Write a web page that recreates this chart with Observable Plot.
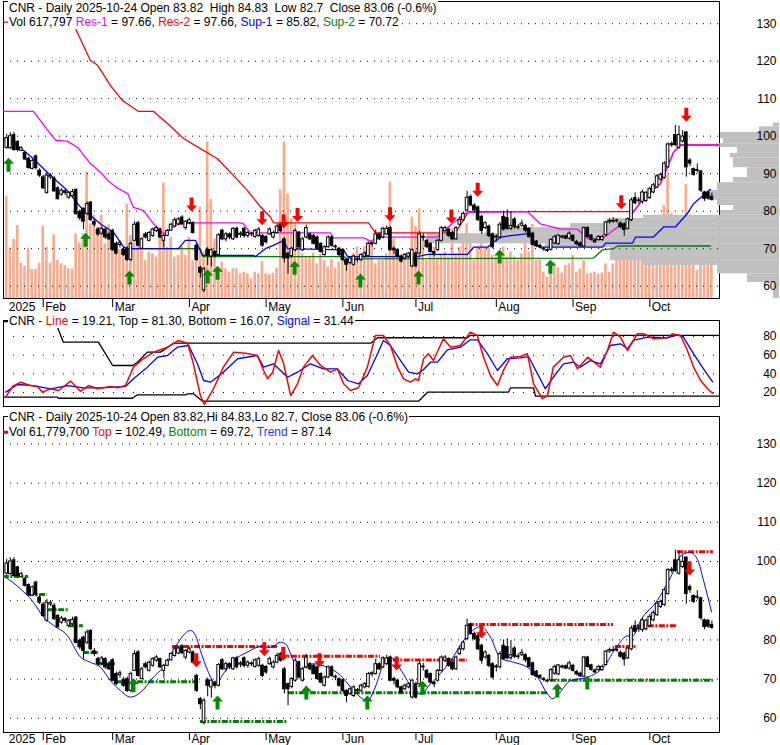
<!DOCTYPE html>
<html><head><meta charset="utf-8">
<script src="https://cdn.jsdelivr.net/npm/d3@7"></script>
<script src="https://cdn.jsdelivr.net/npm/@observablehq/plot@0.6"></script>
<style>
body{margin:0;background:#fff;}
#wrap{position:relative;width:780px;height:745px;overflow:hidden;background:#fff;}
#wrap svg{position:absolute;left:0;}
.hdr{position:absolute;left:8px;background:#fff;font:12px Arial,"Liberation Sans",sans-serif;white-space:pre;line-height:14px;height:14px;color:#000;padding:0 1px;z-index:5;}
</style></head>
<body><div id="wrap"></div>
<script>
// ---------- axis labels ----------
const monthIdx = [0,10,29,50,71,92,112,134,155,176];
const monthLbl = ["2025","Feb","Mar","Apr","May","Jun","Jul","Aug","Sep","Oct"];
const priceTicks = [60,70,80,90,100,110,120,130];
const oscTicks = [20,40,60,80];

// ---------- daily OHLC + volume (Jan 17 .. Oct 24, 2025), volume in thousands ----------
const open = [96.9,96.8,100.3,98.5,96.1,95.5,94,91.3,94.6,90.8, 89,84.9,89,88.7,86.1,84.4,85.3,83.6,84,85.7, 79.8,80.6,79.3,82.3,77.1,75.1,74,75.1,73.8,74.8, 71.3,71,69.7,70,67,72.1,76.8,70,73.8,72.1, 73.4,74.7,75.1,72.1,73.4,74.8,75.9,76.5,78.3,75.5, 76.8,76.8,70.8,64.9,58.9,69.7,67.9,69.1,68.3,74.8, 72.5,73.8,72.5,75.3,73.7,75.3,73.4,73.8,73.1,73.4, 73.4,73.1,73.8,73,74.2,76.4,72.5,68.7,68,69.6, 74.3,69.6,73,73.8,73.4,73,71.3,68.3,70.4,73, 70.4,70,69.7,67,66.2,65.7,67,67,67.9,68, 71.2,71.3,73.8,73,73.8,75.5,70,69.6,67.9,67.4, 67.9,65.3,68.7,68.7,73.2,72.1,71.3,69.1,69.6,72.1, 74.7,75.1,74.2,72.5,76.4,77.6,80.2,83.8,81.5,81, 78.5,75.5,75.9,73.8,73,73,78.5,78.2,75.3,77.8, 75.8,76.1,76.1,75.3,74,71.9,70.8,70,69.4,69.7, 71.4,71.2,73,73.3,72.7,73.4,71.8,71.4,70.6,75.5, 73.5,72.2,72.3,72.3,73.6,77,77.2,77.5,76.7,76.5, 75.3,77.6,83.5,82.7,82.5,82.7,83.5,85,86.3,88.4, 88.9,91.7,97.6,100.3,96.9,98.6,101,93.5,91.2,91, 90.6,85,84.9,83.82];
const high = [100.5,100.9,101,98.8,97.2,96,94.3,93.8,95,91.3, 89.5,90.3,90,89.3,86.5,86,85.7,85.2,85.8,85.9, 80.3,80.9,82.5,82.6,77.8,75.6,75.8,75.5,74.5,75.2, 71.8,72.1,70.5,70.5,71.8,77.2,77.3,73,74.3,74.6, 75.5,76,75.4,73.8,75.1,76.8,78.2,78.3,78.8,77.5, 78.1,77.2,71.2,65.3,65,70.3,70,69.5,74,75.2, 74.3,74.2,75.6,75.8,74.5,75.7,74.7,74.4,75.2,75.6, 73.8,73.5,75.6,74.7,76.6,76.8,73,69,70.4,75.2, 74.6,73,76.3,74.2,73.8,73.4,71.6,70.8,73.4,73.4, 71,70.3,70,67.3,67.8,68.3,67.6,68.7,69.2,71.7, 71.9,75,74.2,75.7,76.1,75.9,70.5,70,68.2,68.7, 69,70,69.2,74.6,74,72.5,71.6,69.4,72.5,75.9, 76,75.5,74.6,75.9,78.5,79.8,85.3,84.3,82,81.4, 78.9,77.2,76.3,74.2,73.7,77,80,80.3,79.9,78.3, 76.5,77.6,76.5,75.6,74.4,72.2,71.2,70.4,70,72.7, 73.6,73.7,73.6,73.6,74.5,73.8,72.2,71.8,75.8,75.8, 73.8,72.6,73.5,73.6,77.3,77.9,78.3,77.9,77.2,76.9, 78.2,83.5,84.9,83.6,85.6,85.3,86.5,87.4,89.8,90.2, 93.2,98.2,98.5,102.9,102.7,101.5,101.2,94,91.5,92.6, 90.9,85.3,85.2,84.83];
const low = [96.5,96.5,96,95.8,95.9,93.5,91.2,91,91,89, 85.8,84.5,88.5,85,83,84,84.2,83.2,83.5,79, 77.5,75.1,78.8,77.3,75.7,73.3,73.5,72.5,72.2,69.3, 68.3,70.2,67.9,66.6,66.5,71.9,70.5,69.8,72.6,71.8, 73,74.3,72.7,70.2,73.2,74.6,75.6,76.2,76.3,74.9, 76.4,73.9,66.6,62.2,58.3,65.5,65.1,67.5,68,72.1, 71.8,72.4,72.2,72.6,72.9,72.8,72.8,73.2,72.8,73, 70.4,71.2,73.5,72.6,73.9,74.3,66.2,63.2,67.5,69.2, 70,69.2,72.6,72.1,71,69.7,68.8,68,70.1,70.4, 69.6,67.9,66.5,64,65.8,65.3,66.3,66.6,67.5,67.7, 70.5,71,72.2,72.6,73.5,69.3,68.5,67.5,66.2,67, 67.5,64.9,64.9,68.3,72,70,68.8,67.8,69.2,71.8, 74.3,73,72.1,72.2,76,77.2,79.8,81.2,79.8,77.3, 73.8,75.1,72.9,70,71.8,72.6,74.7,74.9,74.8,75.2, 75,75.8,74.2,72.8,70.7,70.3,69.9,69.3,69,69.4, 71,70.9,72.6,72.4,72.3,71.8,70.8,70.4,70.3,72.8, 72,71.4,72,72,73.3,76.6,76.8,76.8,75.3,73.3, 75,77.2,81.7,81.9,81.9,82.3,83.1,84.6,86,88, 88.5,91.4,97,97.2,96.5,98.2,89.1,91.9,89.3,90.2, 85,82.6,83,82.7];
const close = [99.5,100,96.3,96.3,96.8,93.8,91.5,93.4,91.5,89.5, 86.1,89.5,89.4,85.3,83.2,85.5,84.9,84.9,85.1,79.2, 78.1,77.2,81.9,77.6,76.4,73.8,75.3,73,72.5,69.6, 68.7,71.5,68.3,67,71.3,76.4,70.8,72.5,73,74.2, 75.1,75.5,73,73.4,74.7,76.4,77.6,77.8,76.6,77.2, 77.6,74.2,67,63.6,64.5,68.3,69.6,68.3,73.6,72.5, 73.8,73,75.3,73,74,73.4,74.2,74,74.8,75.1, 70.8,71.7,75.1,74.2,75.9,74.7,67.4,67.4,70,74.7, 70.4,72.5,75.5,72.5,71.3,70,69.1,70.4,73,70.8, 70.6,68.3,67,65.7,67.4,67.9,67.2,68.3,68.7,71.3, 71.5,73.8,72.5,75.3,75.3,69.6,69.6,67.9,66.6,68.3, 68.7,69.6,65.3,73.8,73,70.4,69.1,68.7,72.1,75.5, 75.5,73.4,72.5,75.5,77.6,79.3,83.6,81.5,80.2,77.6, 74.7,76.8,73.4,70.4,73.2,76.4,75.1,75.3,76.1,75.7, 75.6,76.7,74.8,73.1,71,70.6,70.3,69.8,69.6,72.3, 73.1,73.5,73.2,72.7,74,72.1,71.2,70.7,75.5,73.1, 72.4,71.7,73.1,73.1,77,77.4,77.4,77.3,75.7,75, 77.8,82.9,82.1,82.9,85,84.9,85.9,86.9,89.3,89.7, 92.7,97.8,97.9,97.6,100.3,99.9,91.7,92.7,89.7,90.8, 85.5,83.3,83.4,83.06];
const volume = [1836,906,1062,1314,636,582,906,522,522,636, 1296,924,636,1146,684,624,594,534,534,1164, 996,1164,2274,1344,1494,1284,1494,984,1326,1044, 984,876,834,1692,1134,1254,1194,876,684,834, 804,744,1284,2076,924,1104,744,774,936,774, 1104,684,834,1644,834,2814,1782,1074,504,654, 534,474,534,534,444,474,444,354,474,444, 666,444,432,456,546,1956,2814,1884,1434,1344, 1044,804,744,744,816,624,792,684,564,696, 552,654,804,636,654,804,924,714,936,1044, 984,624,684,684,804,2094,1074,792,792,804, 792,1464,1296,1614,1104,684,804,924,744,774, 834,744,1254,804,924,1044,1344,1164,684,924, 984,924,924,774,744,684,924,744,834,744, 684,804,1284,834,1332,684,696,474,384,624, 654,552,456,594,624,774,474,534,684,444, 456,474,444,456,624,474,624,744,1116,684, 744,1074,1074,924,864,624,624,594,696,834, 1674,2232,1524,1494,1464,1164,2052,834,834,504, 1044,894,744,612];

// ---------- volume-at-price profile (thousands) ----------
const profLo = [56.7,61,63.3,65.5,66.8,70.3,71.3,74,75.6,76.7,78.1,78.9,80.2,81.5,82.9,85.5,87.6,89,91.6,94.2,95.4,97,98,99.4,101,102.5];
const profHi = [61,63.3,65.5,66.8,70.3,71.3,74,75.6,76.7,78.1,78.9,80.2,81.5,82.9,85.5,87.6,89,91.6,94.2,95.4,97,98,99.4,101,102.5,103.5];
const profVol = [300,1600,3100,6800,8450,11700,17600,14000,10450,8600,6800,2950,2300,3100,3600,3100,2300,1600,2300,2450,2100,3150,2800,2950,1000,300];

// ---------- top panel: support / resistance lines [barIndex, price] ----------
const res2 = [[-0.9,130.4],[16.9,130.4],[18.8,128.7],[22.9,120.2],[24.9,118.9],[28.4,113.5],[31.7,109.5],[36.1,106.6],[40.2,106.6],[44,103.4],[48.4,99.4],[53,96.7],[57.7,94],[62.1,89.5],[65.9,85.5],[69.5,81.1],[72.2,78.4],[73,76.9],[99,76.9],[100.9,74.2],[122.8,74.2],[126.4,79.9],[171.5,79.9],[173.5,82.4],[176.2,85.1],[178.9,87.3],[180.8,91.7],[182.5,95.7],[184.4,97.66],[195,97.66]];
const res1 = [[-0.9,106.6],[7.3,106.6],[12,100.6],[13.4,98.9],[16.6,98.7],[19.4,97],[22.9,92.7],[25.7,90.4],[27.6,88.2],[30.3,86.2],[33.1,84.7],[34.7,81],[37.4,80.2],[40.2,76.6],[42.9,74],[44.8,75.3],[46.7,76.4],[51.1,76.9],[64,76.9],[64.8,76.6],[66.7,74.2],[88.6,74.2],[89.4,72.9],[97.7,72.9],[99.6,72],[101.5,73.1],[117.9,73.1],[118.7,74],[122.3,77],[126.1,79.7],[142.5,79.9],[146.1,76.6],[151.6,75.2],[156.2,75.2],[159,72.7],[163.1,72.7],[167.2,75.8],[169.9,76.6],[171.3,79.4],[173.5,82.4],[176.2,85.1],[178.9,87.3],[180.8,91.7],[182.5,95.7],[184.4,97.66],[195,97.66]];
const sup1 = [[-0.9,99.4],[1.9,98.4],[7.3,94],[12,89.5],[16.6,85.5],[20.2,81.1],[25.7,76.6],[29.2,74.4],[32,70.4],[33.1,70],[47,70],[48.9,72.2],[51.7,72.2],[53.6,68.2],[67.5,68.2],[68.1,67.9],[70.8,70],[73,70.9],[75.8,72.2],[76.9,70],[92.2,69.7],[93.3,67.9],[112.4,67.9],[115.2,68.5],[126.1,68.5],[127.8,70.4],[131.6,70.4],[133.2,71.7],[135.1,73],[137.9,73.5],[143.4,74.1],[144.2,71.3],[146.1,70.4],[163.1,70.4],[163.9,71.5],[171.3,71.5],[172.1,73.1],[177,73.1],[179.8,75.8],[183,75.8],[186.3,79.4],[188,82],[190.7,84.3],[192.6,85.82]];
const sup2 = [[33.1,70],[53,70],[53.6,67.9],[92.2,67.9],[93.3,67.3],[160.6,67.5],[163.1,69.7],[166.1,70],[167.2,70.72],[192.6,70.72]];
const topUp = [[0.5,94.8],[21.6,74.8],[33.6,64.7],[55,65],[57.7,66],[78.8,67.3],[96.8,63.9],[112.7,64.7],[134.9,70.3],[148.8,67.6]];
const topDn = [[50.6,79.4],[69.9,75.7],[75.8,74.9],[79.6,76.6],[104.9,76.8],[121.7,76.2],[128.9,83.3],[168.2,80],[186,103.3]];

// ---------- middle panel oscillator [barIndex, value] ----------
const oscLine = [[-0.3,15],[1.6,26.5],[3.8,31.1],[6.5,27.5],[8.4,26.5],[9.8,20.4],[12,24],[14.2,22.2],[17.5,32.2],[20.2,21.4],[22.4,27.5],[24.9,24],[28.4,26.5],[30.3,25.1],[32.5,27.5],[34.7,47.2],[37.4,56.2],[40.2,63.3],[44,68.6],[47,75.8],[49.5,72.9],[51.1,50.8],[53,16.8],[54.1,7.2],[56.6,24],[59.3,47.2],[62.1,63.3],[65.4,62.2],[68.6,59.7],[70.3,43.6],[71.4,34.7],[72.8,41.8],[74.4,65],[75.8,50.8],[77.7,16.8],[79.6,29.4],[81.2,47.2],[83.7,59.7],[85.9,49],[88.6,41.8],[90.5,45.4],[92.2,29.4],[94.1,22.2],[96.3,25.1],[98.7,47.2],[100.9,81.1],[103.1,81.1],[105,70.4],[107,47.2],[108.6,34.7],[110.5,31.1],[111.9,34.7],[112.7,32.9],[114.1,56.2],[115.4,61.5],[116.8,54.3],[119.5,77.6],[121.5,68.6],[124.2,70.4],[126.9,84.7],[128.8,81.1],[130.5,57.9],[132.4,38.3],[134.3,27.5],[135.9,43.6],[137.9,57.9],[140.6,58.6],[142.5,61.5],[144.2,29.4],[146.6,13.3],[148,16.8],[149.6,47.2],[152.4,57.9],[154.3,59.7],[156.2,45.4],[159,57.9],[162.5,47.2],[164.4,65],[166.1,84.7],[168,79.3],[169.9,65],[172.6,83],[174.3,83],[177,77.6],[180.8,78.7],[182.2,83],[184.4,81.1],[186.3,65],[188,47.2],[189.9,32.9],[191.8,24],[193.2,19.21]];
const oscSignal = [[-0.3,20.4],[3,28.6],[7.3,27.5],[12,24],[16.6,27.5],[21,25.1],[25.7,25.1],[32.5,26.5],[34.7,34.7],[38.5,47.2],[41.3,57.9],[44,59.7],[46.7,68.6],[49.8,70.4],[52.2,50.8],[53.9,32.9],[55.8,31.1],[59.3,41.8],[63.2,56.2],[68.6,59.7],[70.3,47.2],[73,50.8],[76.9,36.4],[79.6,41.8],[83.1,50.8],[86.7,45.4],[90.5,45.4],[93.3,32.9],[96.3,29.4],[98.7,38.3],[101.5,61.5],[103.1,75.8],[105,70.4],[107.8,54.3],[110,41.8],[112.4,40],[113.8,43.6],[116,52.5],[117.9,52.5],[120.6,65.8],[124.2,68.6],[126.9,76.5],[128.8,76.5],[131.6,61.5],[134.3,43.6],[137,56.2],[140.6,57.2],[142.8,58.6],[145.3,40],[147.4,24],[149.6,36.4],[152.4,50.8],[155.1,52.5],[157,47.2],[159.8,54.3],[162.5,50.8],[165.2,70.4],[168,72.2],[169.9,66.9],[171.5,75.8],[175.4,79.3],[180.8,78.7],[183.6,81.9],[185.2,79.3],[188,61.5],[190.7,45.4],[193.2,31.44]];
const oscTop = [[-0.9,96],[13.2,96],[13.9,90],[15.5,74],[25.1,74],[29,49],[34.4,49],[35.8,52.5],[38.5,63.3],[42.1,63.3],[45.7,72.9],[99.6,72.9],[101.5,78.7],[126.1,78.7],[126.9,81.3],[195,81.3]];
const oscBottom = [[-0.9,15],[13.9,15],[14.2,13.9],[34.4,13.9],[35.8,17.6],[48.9,17.6],[49.5,18.6],[51.1,18.6],[53.6,10.7],[112.7,10.7],[115.2,20.4],[137.3,20.4],[137.9,25.1],[144.2,25.1],[144.7,16.07],[195,16.07]];

// ---------- bottom panel [barIndex, price] ----------
const trend = [[-0.3,96],[3.8,93],[7.3,89.6],[10.1,85.8],[12.8,83.7],[16.6,81.1],[20.2,75.6],[22.9,74.3],[25.7,73],[28.4,69.6],[31.1,67.1],[33.9,65.4],[36.6,66.6],[40.2,70.5],[44,74.3],[46.7,79],[50.3,82.4],[51.7,81.1],[53,77.3],[55,72.2],[57.1,68.8],[59.3,71.4],[62.1,74.7],[65.9,76.9],[69.5,78.3],[72.2,78.1],[74.9,79.4],[76.3,79],[78.5,74.7],[80.4,72.6],[83.7,73.9],[87.8,73],[91.4,70.9],[94.1,68],[96.8,65.4],[98.7,64.5],[100.9,68],[103.1,73.9],[105,75.6],[107,73.5],[109.1,70.5],[111.3,67.1],[113.3,66.2],[116,68.8],[118.7,71.4],[121.5,74.7],[125,79.8],[127.5,82.4],[129.7,83.4],[132.4,80.7],[135.1,75.4],[138.7,74.3],[142.5,73],[145.3,70.5],[148,66.2],[149.4,65],[151,66.2],[154.3,69.6],[159,70.5],[163.3,73],[167.2,78.6],[169.9,81],[171.3,81],[173.5,85],[178.1,90.1],[181.7,96],[185,101.9],[187.1,102.3],[189.1,100.4],[190.7,95.2],[192.9,87.14]];
// [fromIndex, toIndex, price]
const topSegs = [[-0.9,10,133],[45.4,74.1,78.3],[74.9,102.3,75.8],[102.8,126.1,74.9],[126.4,166.1,83.9],[166.6,172.4,78.3],[172.6,183.6,83.6],[183.6,193.4,102.49]];
const botSegs = [[-0.9,6,96.2],[6,11.2,91.6],[11.2,16.9,87.7],[16.9,21,83.6],[21,25.1,76.8],[25.1,29.8,73.9],[29.8,53,69.3],[53,77.1,59.2],[77.1,148.3,66.5],[148.8,193.4,69.72]];
const botUp = [[34.7,70.2],[57.7,65.8],[82,68.4],[98.7,65.8],[113.8,69.6],[150.7,68.9],[158.9,70.9]];
const botDn = [[51.9,73],[70.5,75.8],[75.7,74.7],[85.6,73],[106.7,72.2],[129.9,80.4],[186.9,96.4]];

// ---------- build ----------
const bars = open.map((o, i) => ({i, o, h: high[i], l: low[i], c: close[i], v: volume[i]}));
const profile = profVol.map((v, k) => ({lo: profLo[k], hi: profHi[k], v}));

const FONT = "Arial, 'Liberation Sans', sans-serif";
const svgStyle = {background: "transparent", overflow: "visible", fontFamily: FONT, fontSize: "12px", color: "#000"};
const xDom = [-0.88, 195.08];
const topDom = [56.72, 135.92];
const midDom = [5.04, 97.2];
const botDom = [56.38, 136.99];
const VOLC = "#FBAA8D";
const RED = "#FF0000", MAG = "#FF00FF", BLUE = "#0000FF", GREEN = "#008000", AGREEN = "#008C00";

const arrowUp = {draw(c) { c.moveTo(0,0); c.lineTo(5.5,6); c.lineTo(2,6); c.lineTo(2,14); c.lineTo(-2,14); c.lineTo(-2,6); c.lineTo(-5.5,6); c.closePath(); }};
const arrowDn = {draw(c) { c.moveTo(0,0); c.lineTo(5.5,-6); c.lineTo(2,-6); c.lineTo(2,-14); c.lineTo(-2,-14); c.lineTo(-2,-6); c.lineTo(-5.5,-6); c.closePath(); }};

const P = d => d[0], V = d => d[1];
const line = (pts, stroke, w = 1.2, extra = {}) => Plot.line(pts, {x: P, y: V, stroke, strokeWidth: w, ...extra});
const candles = () => [
  Plot.ruleX(bars, {x: "i", y1: "l", y2: "h", stroke: "black", strokeWidth: 1}),
  Plot.rect(bars, {x1: d => d.i - 0.36, x2: d => d.i + 0.36, y1: "o", y2: "c", fill: d => d.c >= d.o ? "white" : "black", stroke: "black", strokeWidth: 1})
];
const rightAxis = ticks => Plot.axisY(ticks, {anchor: "right", label: null, tickSize: 0, tickPadding: 0, textAnchor: "end", dx: 57, fontSize: 12});
const monthTicks = (size) => Plot.axisX(monthIdx.slice(1), {anchor: "bottom", label: null, tickSize: size, tickFormat: () => ""});
const monthText = (pad) => Plot.axisX(monthIdx, {anchor: "bottom", label: null, tickSize: 0, tickPadding: pad, textAnchor: "start", dx: 2, fontSize: 12, tickFormat: d => monthLbl[monthIdx.indexOf(d)]});

const wrap = document.getElementById("wrap");
function place(svg, top) { svg.style.top = top + "px"; wrap.appendChild(svg); }

// layer 1: volume bars + top frame
place(Plot.plot({
  width: 780, height: 299, marginLeft: 3, marginRight: 61, marginTop: 1, marginBottom: 1,
  style: svgStyle,
  x: {domain: xDom, axis: null}, y: {domain: [0, 5346], axis: null},
  marks: [
    Plot.rect(bars, {x1: d => d.i - 0.36, x2: d => d.i + 0.36, y1: 0, y2: "v", fill: VOLC}),
    Plot.frame({stroke: "black"})
  ]
}), 0);

// layer 2: volume-at-price profile
place(Plot.plot({
  width: 780, height: 299, marginLeft: 0, marginRight: 0, marginTop: 1, marginBottom: 1,
  style: svgStyle,
  x: {domain: [0, 17750], range: [779, 424], axis: null}, y: {domain: topDom, axis: null},
  marks: [Plot.rect(profile, {x1: 0, x2: "v", y1: "lo", y2: "hi", fill: "#C0C0C0"})]
}), 0);

// layer 3: price panel
place(Plot.plot({
  width: 780, height: 320, marginLeft: 3, marginRight: 61, marginTop: 1, marginBottom: 22,
  style: svgStyle,
  x: {domain: xDom, label: null}, y: {domain: topDom, label: null},
  marks: [
    Plot.gridY(priceTicks, {stroke: "black", strokeOpacity: 1, strokeDasharray: "1,6"}),
    line(res2, RED, 1.3), line(sup2, GREEN, 1.3), line(sup1, BLUE, 1.3), line(res1, MAG, 1.3),
    ...candles(),
    Plot.dot(topUp, {x: P, y: V, symbol: arrowUp, fill: AGREEN, stroke: "none", dy: 2}),
    Plot.dot(topDn, {x: P, y: V, symbol: arrowDn, fill: RED, stroke: "none", dy: -2}),
    rightAxis(priceTicks),
    monthTicks(9), monthText(3.5)
  ]
}), 0);

// middle oscillator panel
place(Plot.plot({
  width: 780, height: 88, marginLeft: 3, marginRight: 61, marginTop: 1, marginBottom: 1,
  style: svgStyle,
  x: {domain: xDom, axis: null}, y: {domain: midDom, label: null},
  marks: [
    Plot.frame({stroke: "black"}),
    Plot.gridY(oscTicks, {stroke: "black", strokeOpacity: 1, strokeDasharray: "1,9"}),
    line(oscTop, "black", 1.3), line(oscBottom, "black", 1.3),
    line(oscSignal, BLUE, 1.3), line(oscLine, RED, 1.5),
    rightAxis(oscTicks)
  ]
}), 319);

// bottom panel
place(Plot.plot({
  width: 780, height: 330, marginLeft: 3, marginRight: 61, marginTop: 1, marginBottom: 13,
  style: svgStyle,
  x: {domain: xDom, label: null}, y: {domain: botDom, label: null},
  marks: [
    Plot.frame({stroke: "black"}),
    Plot.gridY(priceTicks, {stroke: "black", strokeOpacity: 1, strokeDasharray: "1,6"}),
    Plot.ruleY(botSegs, {y: d => d[2], x1: d => d[0], x2: d => d[1], stroke: GREEN, strokeWidth: 3, strokeDasharray: "6,1.5,2,1.5"}),
    Plot.ruleY(topSegs, {y: d => d[2], x1: d => d[0], x2: d => d[1], stroke: RED, strokeWidth: 3, strokeDasharray: "6,1.5,2,1.5"}),
    line(trend, BLUE, 1, {curve: "monotone-x"}),
    ...candles(),
    Plot.dot(botUp, {x: P, y: V, symbol: arrowUp, fill: AGREEN, stroke: "none"}),
    Plot.dot(botDn, {x: P, y: V, symbol: arrowDn, fill: RED, stroke: "none"}),
    rightAxis(priceTicks),
    monthTicks(8), monthText(2)
  ]
}), 415);

// header texts
function hdr(top, html) { const d = document.createElement("div"); d.className = "hdr"; d.style.top = top + "px"; d.innerHTML = html; wrap.appendChild(d); }
const s = (c, t) => `<span style="color:${c}">${t}</span>`;
hdr(1, "CNR - Daily 2025-10-24 Open 83.82  High 84.83  Low 82.7  Close 83.06 (-0.6%)");
hdr(15, `Vol 617,797 ${s(MAG, "Res-1")} = 97.66, ${s(RED, "Res-2")} = 97.66, ${s(BLUE, "Sup-1")} = 85.82, ${s(GREEN, "Sup-2")} = 70.72`);
hdr(314, `CNR - ${s(RED, "Line")} = 19.21, Top = 81.30, Bottom = 16.07, ${s(BLUE, "Signal")} = 31.44`);
hdr(410, "CNR - Daily 2025-10-24 Open 83.82,Hi 84.83,Lo 82.7, Close 83.06 (-0.6%)");
hdr(425, `Vol 61,779,700 ${s(RED, "Top")} = 102.49, ${s(GREEN, "Bottom")} = 69.72, ${s("#3030FF", "Trend")} = 87.14`);
</script>
</body></html>
